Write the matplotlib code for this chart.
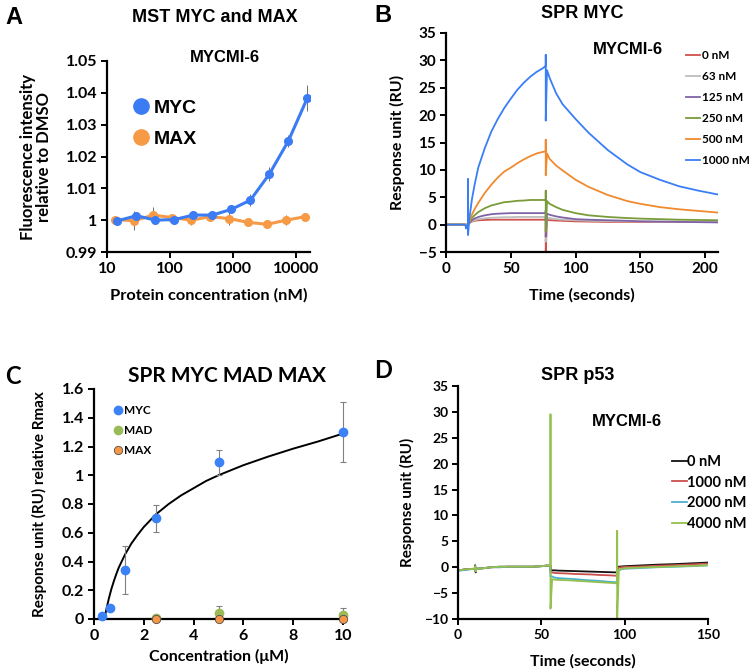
import matplotlib
matplotlib.use("Agg")
import matplotlib.pyplot as plt
from matplotlib.lines import Line2D

# ---------------- data ----------------
# A: MST, fluorescence relative to DMSO
mst_conc = [14.6, 29.3, 58.6, 117, 234, 469, 938, 1875, 3750, 7500, 15000]
mst_myc = [0.9998, 1.0014, 1.0000, 1.0002, 1.0016, 1.0016, 1.0034, 1.0063, 1.0145, 1.0249, 1.0384]
mst_myc_err = [0.0010, 0.0012, 0.0010, 0.0008, 0.0008, 0.0010, 0.0010, 0.0018, 0.0022, 0.0020, 0.0042]
mst_max_conc = [13.5, 27, 54, 108, 216, 432, 864, 1730, 3460, 6920, 13800]
mst_max = [1.0002, 0.9998, 1.0016, 1.0008, 1.0000, 1.0011, 1.0005, 0.9993, 0.9987, 1.0000, 1.0011]
mst_max_err = [0.0012, 0.0030, 0.0025, 0.0010, 0.0015, 0.0015, 0.0020, 0.0012, 0.0010, 0.0015, 0.0012]

# B: SPR MYC sensorgrams
spr_t = [0, 5, 10, 14, 15, 15.5, 16, 17, 17, 17, 18, 20, 22, 25, 30, 35, 40, 45, 50, 55,
         60, 65, 70, 75, 77, 77, 77, 78, 80, 85, 90, 100, 110, 125, 140, 150, 165, 180, 195, 210]
spr_labels = ["0 nM", "63 nM", "125 nM", "250 nM", "500 nM", "1000 nM"]
spr_0 = [0, 0, 0, 0, 0, -0.3, 0, 0, 0, 0, 0.3, 0.55, 0.7, 0.8, 0.85, 0.9, 0.9, 0.9, 0.9, 0.9,
         0.9, 0.9, 0.9, 0.9, 0.9, 1.2, -5.0, 0.85, 0.8, 0.75, 0.7, 0.6, 0.55, 0.5, 0.5, 0.5, 0.5, 0.5, 0.5, 0.5]
spr_63 = [0, 0, 0, 0, 0, -0.3, 0, 0, 0, 0, 0.3, 0.6, 0.8, 1.0, 1.15, 1.25, 1.3, 1.35, 1.35, 1.4,
          1.4, 1.4, 1.4, 1.4, 1.4, 1.8, -3.1, 1.3, 1.2, 1.0, 0.9, 0.8, 0.7, 0.65, 0.6, 0.6, 0.55, 0.55, 0.5, 0.5]
spr_125 = [0, 0, 0, 0, 0, -0.3, 0, 0, 0, 0, 0.3, 0.8, 1.1, 1.4, 1.7, 1.9, 2.0, 2.05, 2.1, 2.1,
           2.1, 2.1, 2.1, 2.1, 2.1, 2.6, -2.2, 2.0, 1.8, 1.5, 1.3, 1.0, 0.9, 0.8, 0.7, 0.6, 0.55, 0.5, 0.45, 0.4]
spr_250 = [0, 0, 0, 0, 0, -0.3, 0, 0, 0, 0, 0.4, 1.2, 1.7, 2.3, 3.0, 3.5, 3.8, 4.1, 4.2, 4.35,
           4.4, 4.5, 4.5, 4.5, 4.5, 6.2, -1.3, 4.3, 3.8, 3.2, 2.7, 2.1, 1.7, 1.4, 1.2, 1.1, 1.0, 0.9, 0.85, 0.8]
spr_500 = [0, 0, 0, 0, 0, -0.3, 0, 0, 0, 0, 0.5, 1.8, 2.8, 4.0, 5.8, 7.3, 8.6, 9.7, 10.4, 11.2,
           11.9, 12.5, 13.0, 13.3, 13.4, 15.5, 9.0, 13.0, 12.0, 10.8, 9.9, 8.2, 6.9, 5.4, 4.3, 3.8, 3.2, 2.8, 2.5, 2.2]
spr_1000 = [0, 0, 0, 0, -0.1, -0.7, -0.2, 0, 8.3, -1.9, 1.0, 4.6, 7.2, 10.5, 14.0, 17.0, 19.3, 21.3, 23.0, 24.6,
            25.9, 27.0, 27.9, 28.6, 29.0, 31.0, 19.0, 28.2, 26.8, 24.0, 22.0, 19.3, 16.8, 13.6, 11.0, 9.6, 8.2, 7.0, 6.2, 5.5]

# C: SPR steady state, relative Rmax
c_conc = [0.3125, 0.625, 1.25, 2.5, 5, 10]
c_myc = [0.02, 0.08, 0.34, 0.70, 1.09, 1.30]
c_myc_err = [0, 0, 0.165, 0.095, 0.085, 0.21]
c_conc2 = [2.5, 5, 10]
c_mad = [0.01, 0.04, 0.03]
c_mad_err = [0, 0.05, 0.05]
c_max = [0, 0, 0]
fit_x = [0.42, 0.5, 0.6, 0.7, 0.8, 0.9, 1.0, 1.25, 1.5, 1.75, 2.0, 2.5, 3, 3.5, 4, 4.5, 5, 6, 7, 8, 9, 10]
fit_y = [0.0, 0.07, 0.145, 0.21, 0.265, 0.315, 0.36, 0.45, 0.525, 0.585, 0.64, 0.73, 0.80, 0.86,
         0.91, 0.96, 1.00, 1.07, 1.13, 1.185, 1.235, 1.29]

# D: SPR p53 sensorgrams
p53_t = [0, 5, 10, 10.3, 10.6, 11, 15, 20, 25, 30, 35, 40, 45, 50, 53, 54.5, 55.5, 55.5, 55.5, 56.5,
         58, 60, 65, 70, 75, 80, 85, 90, 95, 95.5, 95.5, 95.5, 96.5, 98, 100, 110, 120, 130, 140, 150]
p53_labels = ["0 nM", "1000 nM", "2000 nM", "4000 nM"]
p53_0 = [-0.6, -0.4, -0.3, 0.4, -1.0, -0.3, -0.2, 0.0, 0.1, 0.1, 0.1, 0.1, 0.1, 0.2, 0.3, 0.3, 0.3, -0.5, -0.6, -0.6,
         -0.6, -0.65, -0.7, -0.75, -0.8, -0.85, -0.9, -0.95, -1.0, -1.0, 0.0, 0.0, 0.1, 0.15, 0.2, 0.35, 0.5, 0.6, 0.75, 0.9]
p53_1000 = [-0.6, -0.4, -0.3, 0.2, -0.8, -0.3, -0.2, 0.0, 0.0, 0.1, 0.1, 0.1, 0.1, 0.2, 0.3, 0.3, 0.3, -0.9, -1.0, -1.0,
            -1.1, -1.15, -1.2, -1.3, -1.35, -1.4, -1.5, -1.55, -1.65, -1.65, -0.3, -0.3, -0.1, 0.0, 0.05, 0.15, 0.3, 0.4, 0.55, 0.7]
p53_2000 = [-0.7, -0.5, -0.3, 0.2, -0.8, -0.3, -0.2, 0.0, 0.0, 0.1, 0.1, 0.1, 0.1, 0.2, 0.3, 0.3, 0.3, -1.7, -1.8, -1.8,
            -2.0, -2.1, -2.2, -2.3, -2.45, -2.55, -2.65, -2.8, -2.9, -2.9, -1.0, -1.0, -0.6, -0.4, -0.3, -0.15, 0.0, 0.1, 0.2, 0.35]
p53_4000 = [-0.6, -0.4, -0.3, 0.2, -0.8, -0.3, -0.2, 0.0, 0.1, 0.1, 0.1, 0.1, 0.1, 0.2, 0.3, 0.3, 0.3, 29.5, -8.0, -2.3,
            -2.4, -2.45, -2.5, -2.6, -2.7, -2.8, -2.9, -3.0, -3.1, -3.1, 7.0, -10.0, -0.6, -0.3, -0.2, -0.05, 0.05, 0.15, 0.25, 0.4]

# ---------------- style ----------------
TICK_FONT = ["Lato", "DejaVu Sans"]
HEAD_FONT = ["Liberation Sans", "DejaVu Sans"]
W, H = 750, 672


def style_axes(ax, fs=10.5):
    for s in ("top", "right"):
        ax.spines[s].set_visible(False)
    for s in ("left", "bottom"):
        ax.spines[s].set_linewidth(1.6)
    ax.tick_params(direction="out", length=4, width=1.4, labelsize=fs, pad=3)
    ax.minorticks_off()
    for lab in ax.get_xticklabels() + ax.get_yticklabels():
        lab.set_fontfamily(TICK_FONT)
        lab.set_fontweight("bold")


def ftext(x, y, s, size, family=HEAD_FONT, ha="center"):
    fig.text(x / W, 1 - y / H, s, fontsize=size, fontweight="bold", family=family,
             ha=ha, va="center")


def axes_px(left, right, top, bottom):
    return fig.add_axes([left / W, 1 - bottom / H, (right - left) / W, (bottom - top) / H])


fig = plt.figure(figsize=(7.5, 6.72), dpi=100)

# ---------------- A ----------------
axA = axes_px(107, 310, 61, 252)
blueA = "#3b7cf4"
orangeA = "#f79a45"
axA.errorbar(mst_max_conc, mst_max, yerr=mst_max_err, color=orangeA, ecolor="#707070",
             elinewidth=0.7, lw=2.2, marker="o", ms=5.5, zorder=2)
axA.errorbar(mst_conc, mst_myc, yerr=mst_myc_err, color=blueA, ecolor="#707070",
             elinewidth=0.7, lw=2.2, marker="o", ms=5.5, zorder=3)
axA.set_xscale("log")
axA.set_xlim(10, 16500)
axA.set_ylim(0.99, 1.05)
axA.set_xticks([10, 100, 1000, 10000])
axA.set_xticklabels(["10", "100", "1000", "10000"])
axA.set_yticks([0.99, 1.0, 1.01, 1.02, 1.03, 1.04, 1.05])
axA.set_yticklabels(["0.99", "1", "1.01", "1.02", "1.03", "1.04", "1.05"])
style_axes(axA, 11.5)
axA.set_xlabel("Protein concentration (nM)", fontsize=11.8, fontweight="bold",
               family=TICK_FONT, va="center")
axA.xaxis.set_label_coords(0.5, -0.225)
axA.set_ylabel("Fluorescence intensity\nrelative to DMSO", fontsize=12, fontweight="bold",
               family=TICK_FONT, va="center", linespacing=1.0)
axA.yaxis.set_label_coords(-0.35, 0.5)
hA = [Line2D([], [], ls="none", marker="o", ms=11, color=blueA),
      Line2D([], [], ls="none", marker="o", ms=11, color=orangeA)]
axA.legend(hA, ["MYC", "MAX"], loc="center left", bbox_to_anchor=(0.07, 0.672),
           frameon=False, borderpad=0, handlelength=1.0, handletextpad=0.15, labelspacing=0.7,
           prop={"family": HEAD_FONT, "weight": "bold", "size": 14})

# ---------------- B ----------------
axB = axes_px(446, 718, 33, 252)
colsB = ["#d0504b", "#bdbdbd", "#8063a6", "#7a9b3a", "#f08a2e", "#3a7ef6"]
seriesB = [spr_0, spr_63, spr_125, spr_250, spr_500, spr_1000]
for vals, col, lab in zip(seriesB, colsB, spr_labels):
    axB.plot(spr_t, vals, color=col, lw=1.3, label=lab)
axB.set_xlim(0, 210)
axB.set_ylim(-5, 35)
axB.set_xticks([0, 50, 100, 150, 200])
axB.set_yticks(range(-5, 36, 5))
style_axes(axB, 11)
axB.set_xlabel("Time (seconds)", fontsize=11.5, fontweight="bold", family=TICK_FONT, va="center")
axB.xaxis.set_label_coords(0.5, -0.196)
axB.set_ylabel("Response unit (RU)", fontsize=11.5, fontweight="bold", family=TICK_FONT, va="center")
axB.yaxis.set_label_coords(-0.18, 0.5)
axB.legend(loc="upper left", bbox_to_anchor=(686 / W, 1 - 50 / H), bbox_transform=fig.transFigure,
           frameon=False, borderpad=0, borderaxespad=0, handlelength=1.2, handletextpad=0.15,
           labelspacing=0.85, prop={"family": TICK_FONT, "weight": "bold", "size": 8.5})

# ---------------- C ----------------
axC = axes_px(94, 343, 389, 619)
blueC, greenC, orangeC = "#3b82f6", "#9bbb59", "#f79646"
axC.plot(fit_x, fit_y, color="black", lw=1.4, zorder=2)
axC.errorbar(c_conc, c_myc, yerr=c_myc_err, ls="none", marker="o", ms=6, color=blueC,
             ecolor="#808080", elinewidth=0.8, capsize=2, capthick=0.8, zorder=4, clip_on=False)
axC.errorbar(c_conc2, c_mad, yerr=c_mad_err, ls="none", marker="o", ms=6, color=greenC,
             ecolor="#808080", elinewidth=0.8, capsize=2, capthick=0.8, zorder=4, clip_on=False)
axC.plot(c_conc2, c_max, ls="none", marker="o", ms=6, color=orangeC, mec="#505050",
         mew=0.6, zorder=5, clip_on=False)
axC.set_xlim(0, 10)
axC.set_ylim(0, 1.6)
axC.set_xticks([0, 2, 4, 6, 8, 10])
axC.set_yticks([0, 0.2, 0.4, 0.6, 0.8, 1.0, 1.2, 1.4, 1.6])
axC.set_yticklabels(["0", "0.2", "0.4", "0.6", "0.8", "1", "1.2", "1.4", "1.6"])
style_axes(axC, 11.5)
axC.set_xlabel("Concentration (μM)", fontsize=11.5, fontweight="bold", family=TICK_FONT, va="center")
axC.xaxis.set_label_coords(0.5, -0.162)
axC.set_ylabel("Response unit (RU) relative Rmax", fontsize=11, fontweight="bold",
               family=TICK_FONT, va="center")
axC.yaxis.set_label_coords(-0.217, 0.5)
hC = [Line2D([], [], ls="none", marker="o", ms=6, color=blueC),
      Line2D([], [], ls="none", marker="o", ms=6, color=greenC),
      Line2D([], [], ls="none", marker="o", ms=6, color=orangeC, mec="#505050", mew=0.6)]
axC.legend(hC, ["MYC", "MAD", "MAX"], loc="upper left", bbox_to_anchor=(0.05, 0.955),
           frameon=False, borderpad=0, handletextpad=0.0, labelspacing=0.75, handlelength=1.0,
           prop={"family": TICK_FONT, "weight": "bold", "size": 8.5})

# ---------------- D ----------------
axD = axes_px(458, 708, 386, 619)
colsD = ["#111111", "#c9504c", "#4cb0d0", "#94c04e"]
seriesD = [p53_0, p53_1000, p53_2000, p53_4000]
for vals, col, lab in zip(seriesD, colsD, p53_labels):
    axD.plot(p53_t, vals, color=col, lw=1.3, label=lab)
axD.set_xlim(0, 150)
axD.set_ylim(-10, 35)
axD.set_xticks([0, 50, 100, 150])
axD.set_yticks(range(-10, 36, 5))
style_axes(axD, 10)
axD.set_xlabel("Time (seconds)", fontsize=11.5, fontweight="bold", family=TICK_FONT, va="center")
axD.xaxis.set_label_coords(0.5, -0.182)
axD.set_ylabel("Response unit (RU)", fontsize=11, fontweight="bold", family=TICK_FONT, va="center")
axD.yaxis.set_label_coords(-0.202, 0.5)
axD.legend(loc="upper left", bbox_to_anchor=(672 / W, 1 - 455 / H), bbox_transform=fig.transFigure,
           frameon=False, borderpad=0, borderaxespad=0, handlelength=1.0, handletextpad=0.0,
           labelspacing=0.45, prop={"family": TICK_FONT, "weight": "bold", "size": 10.5})

# ---------------- titles & panel letters ----------------
ftext(215, 17, "MST MYC and MAX", 13)
ftext(225, 58, "MYCMI-6", 12)
ftext(582, 13, "SPR MYC", 13)
ftext(628, 50, "MYCMI-6", 12)
ftext(227, 376, "SPR MYC MAD MAX", 15, family=TICK_FONT)
ftext(578, 375, "SPR p53", 13)
ftext(627, 421, "MYCMI-6", 12)
ftext(14, 17, "A", 17)
ftext(383, 15, "B", 17)
ftext(13, 377, "C", 17, family=TICK_FONT)
ftext(383, 371, "D", 17, family=TICK_FONT)

fig.savefig("out.png", dpi=100)
